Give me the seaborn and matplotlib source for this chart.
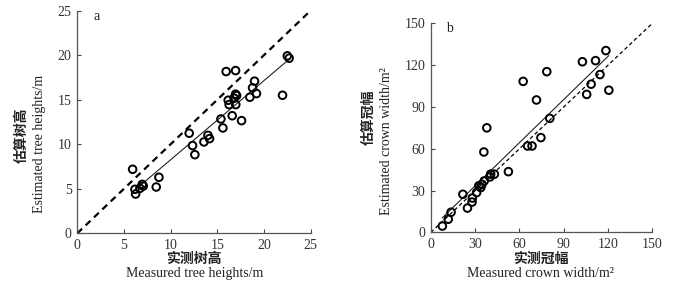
import numpy as np
import pandas as pd
import matplotlib
matplotlib.use("Agg")
import matplotlib.pyplot as plt
import seaborn as sns

# panel a: tree heights (m)
height_measured = [5.93, 6.18, 6.25, 6.71, 6.96, 7.07, 8.46, 8.75,
                   11.99, 12.35, 12.6, 13.57, 14.0, 14.17, 15.39, 15.6,
                   15.95, 16.96, 16.17, 16.27, 16.96, 17.07, 16.8, 16.98,
                   16.6, 17.6, 18.49, 18.78, 18.99, 19.2, 21.99, 22.5, 22.7]
height_estimated = [7.19, 4.94, 4.41, 5.05, 5.5, 5.31, 5.2, 6.29,
                    11.24, 9.85, 8.83, 10.26, 11.0, 10.63, 12.84, 11.83,
                    18.16, 18.27, 14.94, 14.45, 15.62, 15.46, 15.17, 14.45,
                    13.2, 12.65, 15.28, 16.33, 17.08, 15.69, 15.5, 19.92, 19.66]

# panel b: crown width (m2)
crown_measured = [7.8, 11.8, 13.7, 21.7, 24.8, 27.9, 28.1, 31.0, 32.5, 33.8,
                  34.6, 36.1, 35.9, 37.9, 40.0, 40.5, 43.0, 52.5, 62.5, 65.5,
                  68.5, 71.5, 74.5, 78.5, 80.5, 102.6, 105.5, 108.5, 111.5,
                  114.5, 118.5, 120.5]
crown_estimated = [4.6, 9.5, 14.5, 27.4, 17.5, 21.8, 24.7, 28.6, 33.5, 32.2,
                   34.5, 36.9, 57.7, 75.0, 39.8, 41.8, 41.8, 43.6, 108.3, 62.0,
                   62.0, 95.0, 68.0, 115.3, 81.8, 122.4, 99.0, 106.3, 123.2,
                   113.2, 130.4, 102.0]

ticks_a = [0, 5, 10, 15, 20, 25]
ticks_b = [0, 30, 60, 90, 120, 150]

sns.set_style("ticks")
plt.rcParams['font.family'] = ['Liberation Serif', 'Noto Sans CJK SC']
plt.rcParams['font.size'] = 10

fig = plt.figure(figsize=(6.96, 2.87), dpi=100)
ax_a = fig.add_axes([0.111, 0.187, 0.3353, 0.776])
ax_b = fig.add_axes([0.619, 0.19, 0.3184, 0.729])

df_a = pd.DataFrame({'x': height_measured, 'y': height_estimated})
df_b = pd.DataFrame({'x': crown_measured, 'y': crown_estimated})

panels = [
    (ax_a, df_a, ticks_a, 'a', 1.6, (3, 2.2)),
    (ax_b, df_b, ticks_b, 'b', 0.9, (3, 2.2)),
]

for ax, df, ticks, letter, dash_lw, dashes in panels:
    # 1:1 line
    ax.axline((0, 0), slope=1, color='black', lw=dash_lw, dashes=dashes, zorder=1)
    # regression line
    sns.regplot(data=df, x='x', y='y', ax=ax, scatter=False, ci=None,
                truncate=True, line_kws={'color': '#222222', 'lw': 0.8})
    sns.scatterplot(data=df, x='x', y='y', ax=ax, marker='o', s=30,
                    facecolors='none', edgecolor='black', linewidth=1.4, zorder=3)
    ax.set_xlim(ticks[0], ticks[-1])
    ax.set_ylim(ticks[0], ticks[-1])
    ax.set_xticks(ticks)
    ax.set_yticks(ticks)
    ax.set_xlabel('')
    ax.set_ylabel('')
    ax.tick_params(direction='in', length=3, width=0.8, colors='#444444',
                   labelcolor='#333333', labelsize=10, pad=4)
    for side in ['top', 'right']:
        ax.spines[side].set_visible(False)
    for side in ['left', 'bottom']:
        ax.spines[side].set_color('#555555')
        ax.spines[side].set_linewidth(0.9)
    ax.text(0.07, 0.975, letter, transform=ax.transAxes, ha='left', va='center',
            fontsize=10, color='#222222')

cjk = ['Noto Sans CJK SC', 'DejaVu Sans']
serif = ['Liberation Serif', 'DejaVu Serif']

# panel a labels
fig.text(0.279, 0.099, '实测树高', family=cjk, weight='bold', fontsize=10,
         ha='center', va='center', color='#222222')
fig.text(0.279, 0.047, 'Measured tree heights/m', family=serif, fontsize=10,
         ha='center', va='center', color='#222222')
fig.text(0.031, 0.53, '估算树高', family=cjk, weight='bold', fontsize=10,
         rotation=90, ha='center', va='center', color='#222222')
fig.text(0.057, 0.50, 'Estimated tree heights/m', family=serif, fontsize=10,
         rotation=90, ha='center', va='center', color='#222222')

# panel b labels
fig.text(0.777, 0.099, '实测冠幅', family=cjk, weight='bold', fontsize=10,
         ha='center', va='center', color='#222222')
fig.text(0.777, 0.047, 'Measured crown width/m²', family=serif, fontsize=10,
         ha='center', va='center', color='#222222')
fig.text(0.529, 0.59, '估算冠幅', family=cjk, weight='bold', fontsize=10,
         rotation=90, ha='center', va='center', color='#222222')
fig.text(0.556, 0.51, 'Estimated crown width/m²', family=serif, fontsize=10,
         rotation=90, ha='center', va='center', color='#222222')

fig.savefig('out.png', dpi=100)
